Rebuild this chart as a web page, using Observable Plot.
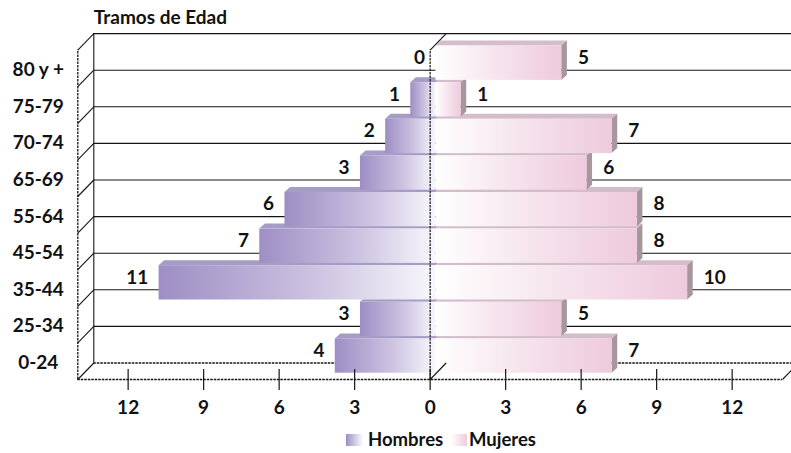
<!DOCTYPE html>
<html><head><meta charset="utf-8">
<script src="https://cdn.jsdelivr.net/npm/d3@7"></script>
<script src="https://cdn.jsdelivr.net/npm/@observablehq/plot@0.6"></script>
<style>
body{margin:0;background:#fff;font-family:Lato,"Open Sans",sans-serif;width:791px;height:453px;overflow:hidden;}
#legend{position:relative;height:30px;width:791px;font-weight:bold;font-size:18.5px;color:#111;}
#legend .sw{position:absolute;top:11px;width:16px;height:12px;}
#legend .lb{position:absolute;top:7px;line-height:18px;}
</style></head><body>
<div id="chart"></div>
<div id="legend"></div>
<script>
// ---- data ----
const categories = ["0-24","25-34","35-44","45-54","55-64","65-69","70-74","75-79","80 y +"];
const hombres = [4, 3, 11, 7, 6, 3, 2, 1, 0];
const mujeres = [7, 5, 10, 8, 8, 6, 7, 1, 5];
const xTicks = [-12, -9, -6, -3, 0, 3, 6, 9, 12];
const titleText = "Tramos de Edad";
const seriesNames = ["Hombres", "Mujeres"];

// ---- look ----
const N = categories.length;
const XMAX = 14;
const UX = 25.175, UY = 36.6;            // px per data unit (for 3D depth conversion)
const WX = 16 / UX, WY = 16.5 / UY;      // wall depth in data units
const BX = 5.6 / UX, BY = 5 / UY;        // bar depth in data units
const PXY = 1 / UY;
const barDx = 5.8, barDy = -5;

const rows = categories.map((c, i) => ({i, cat: c, h: hombres[i], m: mujeres[i]}));
const levels = d3.range(N + 1);

function topFaces(sign, key) {
  return rows.filter(r => r[key] > 0).flatMap(r => {
    const a = sign < 0 ? -r[key] : 0, b = sign < 0 ? 0 : r[key];
    const y0 = r.i + 1 - PXY;
    return [
      {id: key + r.i, y: y0, x1: a, x2: b},
      {id: key + r.i, y: y0 + BY, x1: a + BX, x2: b + BX}
    ];
  });
}
const sideFaces = rows.filter(r => r.m > 0).flatMap(r => {
  const ya = r.i + 1.3 * PXY, yb = r.i + 1 - PXY;
  return [
    {id: "s" + r.i, x: r.m, y1: ya, y2: yb},
    {id: "s" + r.i, x: r.m + BX, y1: ya + BY, y2: yb + BY}
  ];
});

const line = "#141414";
const dash = "2.5,1";

const chart = Plot.plot({
  width: 791, height: 423,
  marginLeft: 77.3, marginRight: 9, marginTop: 49.6, marginBottom: 44,
  x: {domain: [-XMAX, XMAX], axis: null},
  y: {domain: [0, N], axis: null},
  style: {fontFamily: "Lato, 'Open Sans', sans-serif", fontSize: "19px", fontWeight: "bold", color: "#111", overflow: "visible", background: "#fff"},
  marks: [
    // back wall gridlines
    Plot.ruleY(levels.filter(d => d > 0), {y: d => d, x1: () => -XMAX, x2: () => XMAX, dx: 16, dy: -16.5, stroke: line, strokeWidth: 1.1}),
    Plot.ruleY([0], {y: d => d, x1: () => -XMAX, x2: () => XMAX, dx: 16, dy: -16.5, stroke: line, strokeWidth: 1.3, strokeDasharray: dash}),
    Plot.ruleX([-XMAX], {x: d => d, y1: () => 0, y2: () => N, dx: 16, dy: -16.5, stroke: line, strokeWidth: 1.1}),
    // left wall
    Plot.link(levels, {x1: () => -XMAX, y1: d => d, x2: () => -XMAX + WX, y2: d => d + WY, stroke: line, strokeWidth: 1.1}),
    Plot.ruleX([-XMAX], {x: d => d, y1: () => 0, y2: () => N, stroke: line, strokeWidth: 1.3, strokeDasharray: dash}),
    // floor
    Plot.ruleY([0], {y: d => d, x1: () => -XMAX, x2: () => XMAX, stroke: line, strokeWidth: 1.4, strokeDasharray: dash}),
    Plot.link([XMAX], {x1: d => d, y1: () => 0, x2: d => d + WX, y2: () => WY, stroke: line, strokeWidth: 1.1}),
    // bars: top faces
    Plot.areaX(topFaces(-1, "h"), {y: "y", x1: "x1", x2: "x2", z: "id", dx: barDx, dy: barDy, fill: "#a69dc6"}),
    Plot.areaX(topFaces(1, "m"), {y: "y", x1: "x1", x2: "x2", z: "id", dx: barDx, dy: barDy, fill: "#d4bdcb"}),
    // side faces
    Plot.areaY(sideFaces, {x: "x", y1: "y1", y2: "y2", z: "id", dx: barDx, dy: barDy, fill: "#a6979f"}),
    // front faces
    Plot.rect(rows, {x1: d => -d.h, x2: () => 0, y1: d => d.i, y2: d => d.i + 1, dx: barDx, dy: barDy, insetTop: 1, insetBottom: 1.3, fill: "url(#gH)"}),
    Plot.rect(rows, {x1: () => 0, x2: d => d.m, y1: d => d.i, y2: d => d.i + 1, dx: barDx, dy: barDy, insetTop: 1, insetBottom: 1.3, fill: "url(#gM)"}),
    // zero plane line
    Plot.ruleX([0], {x: d => d, y1: () => 0, y2: () => N, stroke: line, strokeWidth: 1.2, strokeDasharray: dash}),
    Plot.link([0, N], {x1: () => 0, y1: d => d, x2: () => WX, y2: d => d + WY, stroke: line, strokeWidth: 1.1}),
    // ticks
    Plot.ruleX(xTicks, {x: d => d, y1: () => 0, y2: () => 0, insetTop: -10, insetBottom: -11, stroke: line, strokeWidth: 1.2}),
    Plot.axisX({ticks: xTicks, tickFormat: d => Math.abs(d), tickSize: 0, tickPadding: 20.5, fill: "#111"}),
    // category labels
    Plot.text(rows, {x: () => -XMAX, y: d => d.i, text: "cat", dx: -39.5, dy: -16.5, textAnchor: "middle", fill: "#111"}),
    // value labels
    Plot.text(rows, {x: d => -d.h, y: d => d.i + 0.5, text: d => String(d.h), dx: -5, dy: -10.5, textAnchor: "end", fill: "#111"}),
    Plot.text(rows, {x: d => d.m, y: d => d.i + 0.5, text: d => String(d.m), dx: 22, dy: -10.5, textAnchor: "start", fill: "#111"}),
    // title
    Plot.text([titleText], {text: d => d, frameAnchor: "top-left", lineAnchor: "middle", dx: 16, dy: -32.6, textAnchor: "start", fill: "#111"})
  ]
});

// gradients for 3D bars
const NS = "http://www.w3.org/2000/svg";
const defs = document.createElementNS(NS, "defs");
function grad(id, stops) {
  const g = document.createElementNS(NS, "linearGradient");
  g.setAttribute("id", id);
  g.setAttribute("x1", "0"); g.setAttribute("x2", "1"); g.setAttribute("y1", "0"); g.setAttribute("y2", "0");
  stops.forEach(([o, c]) => {
    const s = document.createElementNS(NS, "stop");
    s.setAttribute("offset", o); s.setAttribute("stop-color", c);
    g.appendChild(s);
  });
  defs.appendChild(g);
}
grad("gH", [[0, "#9e8ec4"], [0.55, "#cbc1e0"], [1, "#f8f7fb"]]);
grad("gM", [[0, "#ffffff"], [0.45, "#f6e6ee"], [1, "#eecadd"]]);
chart.insertBefore(defs, chart.firstChild);
document.getElementById("chart").appendChild(chart);

// legend
const legend = document.getElementById("legend");
const swatchBg = ["linear-gradient(to right,#9e8ec4,#f8f7fb)", "linear-gradient(to right,#ffffff,#eecadd)"];
const swLeft = [346, 451], lbLeft = [368, 469];
seriesNames.forEach((name, k) => {
  const sw = document.createElement("div");
  sw.className = "sw"; sw.style.left = swLeft[k] + "px"; sw.style.background = swatchBg[k];
  const lb = document.createElement("div");
  lb.className = "lb"; lb.style.left = lbLeft[k] + "px"; lb.textContent = name;
  legend.appendChild(sw); legend.appendChild(lb);
});
</script>
</body></html>
